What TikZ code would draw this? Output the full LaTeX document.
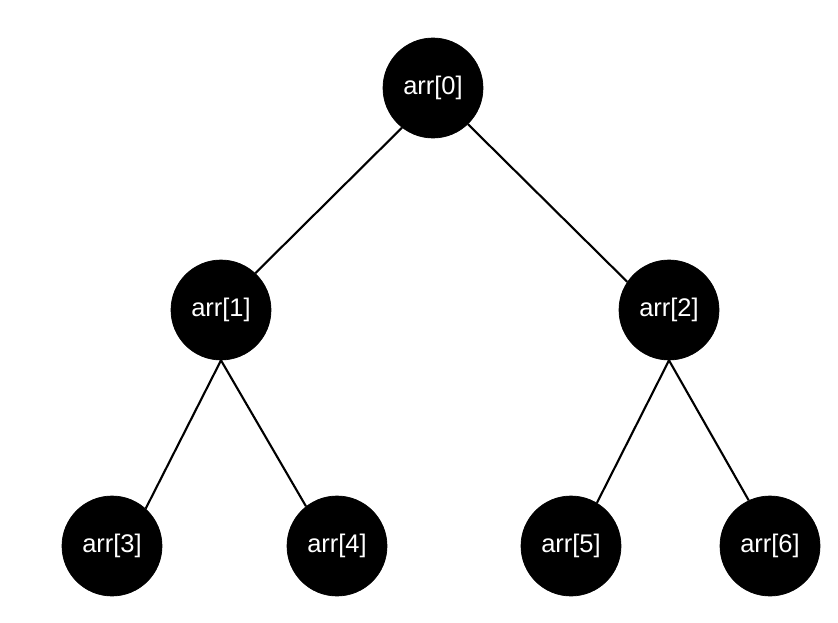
\documentclass[tikz,border=0pt]{standalone}
\usepackage{fontspec}
\setmainfont{Liberation Sans}
\usepackage{tikz}
\tikzset{
    vertex/.style={shape=circle, draw=black, fill=black, minimum size=2cm, inner sep=0pt,
        text=white, font=\fontsize{14.5}{16}\selectfont},
    edge/.style={draw=black, line width=1.2pt}}

\begin{document}
\begin{tikzpicture}[x=0.02cm, y=-0.02cm]

                    \useasboundingbox (0,0) rectangle (838,622);

                    \node[vertex] (A0) at (433,88) {arr[0]};
                    \node[vertex] (A1) at (221,310) {arr[1]};
                    \node[vertex] (A2) at (669,310) {arr[2]};
                    \node[vertex] (A3) at (112,546) {arr[3]};
                    \node[vertex] (A4) at (337,546) {arr[4]};
                    \node[vertex] (A5) at (571,546) {arr[5]};
                    \node[vertex] (A6) at (770,546) {arr[6]};

                    \draw[edge] (A0.232) -- (A1.47);
                    \draw[edge] (A0.314) -- (A2.146);
                    \draw[edge] (A1.south) -- (A3.48);
                    \draw[edge] (A1.south) -- (A4.128);
                    \draw[edge] (A2.south) -- (A5.59);
                    \draw[edge] (A2.south) -- (A6.115);

                \end{tikzpicture}
\end{document}
